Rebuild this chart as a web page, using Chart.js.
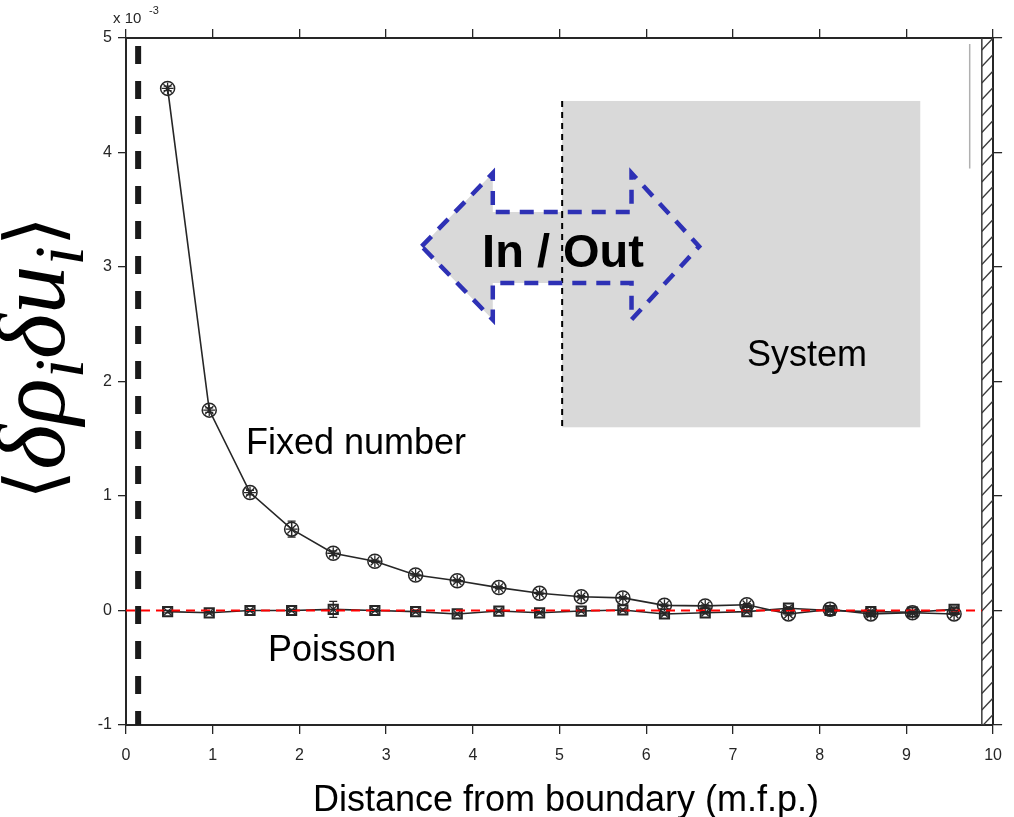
<!DOCTYPE html>
<html>
<head>
<meta charset="utf-8">
<title>Boundary correlation</title>
<script src="https://cdn.jsdelivr.net/npm/chart.js@4.4.1/dist/chart.umd.min.js"></script>
<style>
    html, body { margin: 0; padding: 0; background: #fff; }
    #wrap { width: 1014px; height: 817px; position: relative; }
</style>
</head>
<body>
<div id="wrap"><canvas id="corrChart"></canvas></div>
<script>
// distance from boundary, in mean free paths
const distance = [0.48, 0.96, 1.43, 1.91, 2.39, 2.87, 3.34, 3.82, 4.30, 4.77,
                  5.25, 5.73, 6.21, 6.68, 7.16, 7.64, 8.12, 8.59, 9.07, 9.55];
// <drho du> in units of 1e-3
const fixedNumber = [4.56, 1.75, 1.03, 0.71, 0.50, 0.43, 0.31, 0.26, 0.20, 0.15,
                     0.12, 0.11, 0.045, 0.04, 0.05, -0.03, 0.01, -0.03, -0.02, -0.03];
const fixedErr = [0.02, 0.02, 0.02, 0.07, 0.02, 0.01, 0.01, 0.01, 0.01, 0.01,
                  0.01, 0.01, 0.01, 0.01, 0.01, 0.01, 0.01, 0.01, 0.01, 0.01];
const poisson = [-0.01, -0.02, 0.0, 0.0, 0.01, 0.0, -0.01, -0.03, -0.005, -0.02,
                 -0.005, 0.005, -0.03, -0.02, -0.01, 0.02, 0.0, -0.01, -0.015, 0.01];
const poissonErr = [0.01, 0.01, 0.01, 0.01, 0.07, 0.01, 0.01, 0.01, 0.01, 0.01,
                    0.01, 0.01, 0.01, 0.01, 0.01, 0.01, 0.01, 0.01, 0.01, 0.01];
const xTicks = [0, 1, 2, 3, 4, 5, 6, 7, 8, 9, 10];
const yTicks = [-1, 0, 1, 2, 3, 4, 5];
const reservoirEdge = 0.14;   // dashed boundary on the left
const wallStart = 9.87;       // hatched wall on the right

const INK = '#262626';

const pts = (xs, ys) => xs.map((x, i) => ({ x: x, y: ys[i] }));

// grey system box, in/out arrow, hatched wall, error bars and free text
const decorations = {
    id: 'decorations',
    beforeDatasetsDraw(chart) {
        const { ctx, scales: { x, y }, chartArea } = chart;
        const px = v => x.getPixelForValue(v);
        const py = v => y.getPixelForValue(v);

        ctx.save();
        // system region
        ctx.fillStyle = '#d9d9d9';
        ctx.fillRect(px(5.03), py(4.45), px(9.16) - px(5.03), py(1.6) - py(4.45));
        ctx.strokeStyle = '#000';
        ctx.lineWidth = 2;
        ctx.setLineDash([6, 5]);
        ctx.beginPath();
        ctx.moveTo(px(5.03), py(4.45));
        ctx.lineTo(px(5.03), py(1.6));
        ctx.stroke();

        // thin grey marker line near the wall
        ctx.setLineDash([]);
        ctx.strokeStyle = '#b0b0b0';
        ctx.lineWidth = 1.5;
        ctx.beginPath();
        ctx.moveTo(px(9.73), chartArea.top + 6);
        ctx.lineTo(px(9.73), py(3.86));
        ctx.stroke();

        // double headed in/out arrow
        const arrow = [
            [3.41, 3.18], [4.23, 3.82], [4.23, 3.48], [5.83, 3.48], [5.83, 3.82],
            [6.61, 3.18], [5.83, 2.54], [5.83, 2.86], [4.23, 2.86], [4.23, 2.54]
        ];
        const trace = () => {
            ctx.beginPath();
            arrow.forEach(([ax, ay], i) => {
                if (i === 0) ctx.moveTo(px(ax), py(ay));
                else ctx.lineTo(px(ax), py(ay));
            });
            ctx.closePath();
        };
        trace();
        ctx.fillStyle = '#d9d9d9';
        ctx.fill();
        // the box edge runs through the arrow
        ctx.strokeStyle = '#000';
        ctx.lineWidth = 2;
        ctx.setLineDash([6, 5]);
        ctx.beginPath();
        ctx.moveTo(px(5.03), py(3.48));
        ctx.lineTo(px(5.03), py(2.86));
        ctx.stroke();
        trace();
        ctx.strokeStyle = '#2e31b5';
        ctx.lineWidth = 4.5;
        ctx.setLineDash([14, 10]);
        ctx.stroke();

        // hatched wall
        ctx.setLineDash([]);
        const wl = px(wallStart), wr = chartArea.right;
        ctx.strokeStyle = '#3a3a3a';
        ctx.lineWidth = 1.5;
        ctx.beginPath();
        ctx.moveTo(wl, chartArea.top);
        ctx.lineTo(wl, chartArea.bottom);
        ctx.stroke();
        ctx.save();
        ctx.beginPath();
        ctx.rect(wl, chartArea.top, wr - wl, chartArea.bottom - chartArea.top);
        ctx.clip();
        ctx.lineWidth = 1.3;
        for (let yy = chartArea.top; yy < chartArea.bottom + 20; yy += 16.5) {
            ctx.beginPath();
            ctx.moveTo(wl, yy + 12);
            ctx.lineTo(wr, yy);
            ctx.stroke();
        }
        ctx.restore();
        ctx.restore();
    },
    afterDatasetsDraw(chart) {
        const { ctx, scales: { x, y } } = chart;
        ctx.save();
        ctx.strokeStyle = INK;
        ctx.lineWidth = 1.3;
        const bars = (ys, errs) => {
            distance.forEach((d, i) => {
                const cx = x.getPixelForValue(d);
                const top = y.getPixelForValue(ys[i] + errs[i]);
                const bot = y.getPixelForValue(ys[i] - errs[i]);
                ctx.beginPath();
                ctx.moveTo(cx, top); ctx.lineTo(cx, bot);
                ctx.moveTo(cx - 4, top); ctx.lineTo(cx + 4, top);
                ctx.moveTo(cx - 4, bot); ctx.lineTo(cx + 4, bot);
                ctx.stroke();
            });
        };
        bars(fixedNumber, fixedErr);
        bars(poisson, poissonErr);
        ctx.restore();
    },
    afterDraw(chart) {
        const { ctx } = chart;
        ctx.save();
        ctx.fillStyle = '#000';
        ctx.textBaseline = 'alphabetic';

        ctx.font = 'bold 47px "Liberation Sans", Arial, sans-serif';
        ctx.textAlign = 'center';
        ctx.fillText('In / Out', 563, 267);

        ctx.font = '36px "Liberation Sans", Arial, sans-serif';
        ctx.textAlign = 'left';
        ctx.fillText('System', 747, 366);
        ctx.fillText('Fixed number', 246, 454);
        ctx.fillText('Poisson', 268, 661);

        ctx.textAlign = 'center';
        ctx.fillText('Distance from boundary (m.f.p.)', 566, 811);

        // exponent over the y axis
        ctx.fillStyle = INK;
        ctx.textAlign = 'left';
        ctx.font = '15px "Liberation Sans", Arial, sans-serif';
        ctx.fillText('x 10', 113, 23);
        ctx.font = '11px "Liberation Sans", Arial, sans-serif';
        ctx.fillText('-3', 149, 14);

        // rotated y title  <δρ_i δu_i>
        const parts = [
            { t: '\u27E8', it: false, k: 0.8, fam: '"DejaVu Sans", sans-serif' },
            { t: '\u03B4\u03C1', it: true, k: 1 },
            { t: 'i', it: true, k: 0.72, sub: true },
            { t: '\u03B4u', it: true, k: 1 },
            { t: 'i', it: true, k: 0.72, sub: true },
            { t: '\u27E9', it: false, k: 0.8, fam: '"DejaVu Sans", sans-serif' }
        ];
        const fontFor = (p, s) =>
            `${p.it ? 'italic ' : ''}${s * p.k}px ${p.fam || '"Liberation Serif", serif'}`;
        let size = 60;
        let total = 0;
        parts.forEach(p => { ctx.font = fontFor(p, size); total += ctx.measureText(p.t).width; });
        size = size * 284 / total;
        total = 0;
        parts.forEach(p => { ctx.font = fontFor(p, size); p.w = ctx.measureText(p.t).width; total += p.w; });
        ctx.fillStyle = '#000';
        ctx.translate(64, 358);
        ctx.rotate(-Math.PI / 2);
        let cx = -total / 2;
        parts.forEach(p => {
            ctx.font = fontFor(p, size);
            ctx.fillText(p.t, cx, p.sub ? size * 0.2 : (p.fam ? -size * 0.04 : 0));
            cx += p.w;
        });
        ctx.restore();
    }
};

const axisFont = { family: '"Liberation Sans", Arial, sans-serif', size: 16 };

new Chart(document.getElementById('corrChart'), {
    type: 'line',
    data: {
        datasets: [
            {
                // zero reference
                data: [{ x: 0, y: 0 }, { x: wallStart, y: 0 }],
                borderColor: '#ff0000',
                borderWidth: 2,
                borderDash: [9, 6],
                pointRadius: 0,
                order: 0
            },
            {
                data: pts(distance, fixedNumber),
                showLine: false,
                pointStyle: 'star',
                pointRadius: 6,
                pointBorderColor: INK,
                pointBorderWidth: 1.3,
                order: 1
            },
            {
                data: pts(distance, poisson),
                showLine: false,
                pointStyle: 'crossRot',
                pointRadius: 5,
                pointBorderColor: INK,
                pointBorderWidth: 1.3,
                order: 1
            },
            {
                label: 'Fixed number',
                data: pts(distance, fixedNumber),
                borderColor: INK,
                borderWidth: 1.6,
                pointStyle: 'circle',
                pointRadius: 7,
                pointBorderWidth: 1.5,
                pointBorderColor: INK,
                pointBackgroundColor: 'rgba(0,0,0,0)',
                order: 2
            },
            {
                label: 'Poisson',
                data: pts(distance, poisson),
                borderColor: INK,
                borderWidth: 1.6,
                pointStyle: 'rect',
                pointRadius: 6.5,
                pointBorderWidth: 2,
                pointBorderColor: INK,
                pointBackgroundColor: 'rgba(0,0,0,0)',
                order: 2
            },
            {
                // reservoir boundary
                data: [{ x: reservoirEdge, y: 5 }, { x: reservoirEdge, y: -1 }],
                borderColor: '#1a1a1a',
                borderWidth: 6,
                borderDash: [18, 17],
                borderDashOffset: -8,
                pointRadius: 0,
                order: 3
            }
        ]
    },
    options: {
        responsive: true,
        maintainAspectRatio: false,
        animation: false,
        layout: { padding: 0 },
        plugins: {
            legend: { display: false },
            tooltip: { enabled: false }
        },
        scales: {
            x: {
                type: 'linear',
                position: 'bottom',
                min: 0,
                max: 10,
                afterBuildTicks: s => { s.ticks = xTicks.map(v => ({ value: v })); },
                afterFit: s => { s.height = 92; },
                ticks: { font: axisFont, color: INK, padding: 12, maxRotation: 0 },
                grid: { drawOnChartArea: false, drawTicks: true, tickLength: 9, color: INK, lineWidth: 1.3 },
                border: { color: INK, width: 2 }
            },
            xTop: {
                type: 'linear',
                position: 'top',
                min: 0,
                max: 10,
                afterBuildTicks: s => { s.ticks = xTicks.map(v => ({ value: v })); },
                afterFit: s => { s.height = 38; },
                ticks: { display: false },
                grid: { drawOnChartArea: false, drawTicks: true, tickLength: 9, color: INK, lineWidth: 1.3 },
                border: { color: INK, width: 2 }
            },
            y: {
                type: 'linear',
                position: 'left',
                min: -1,
                max: 5,
                afterBuildTicks: s => { s.ticks = yTicks.map(v => ({ value: v })); },
                afterFit: s => { s.width = 126; },
                ticks: { font: axisFont, color: INK, padding: 6 },
                grid: { drawOnChartArea: false, drawTicks: true, tickLength: 8, color: INK, lineWidth: 1.3 },
                border: { color: INK, width: 2 }
            },
            yRight: {
                type: 'linear',
                position: 'right',
                min: -1,
                max: 5,
                afterBuildTicks: s => { s.ticks = yTicks.map(v => ({ value: v })); },
                afterFit: s => { s.width = 18; },
                ticks: { display: false },
                grid: { drawOnChartArea: false, drawTicks: true, tickLength: 9, color: INK, lineWidth: 1.3 },
                border: { color: INK, width: 2 }
            }
        }
    },
    plugins: [decorations]
});
</script>
</body>
</html>
